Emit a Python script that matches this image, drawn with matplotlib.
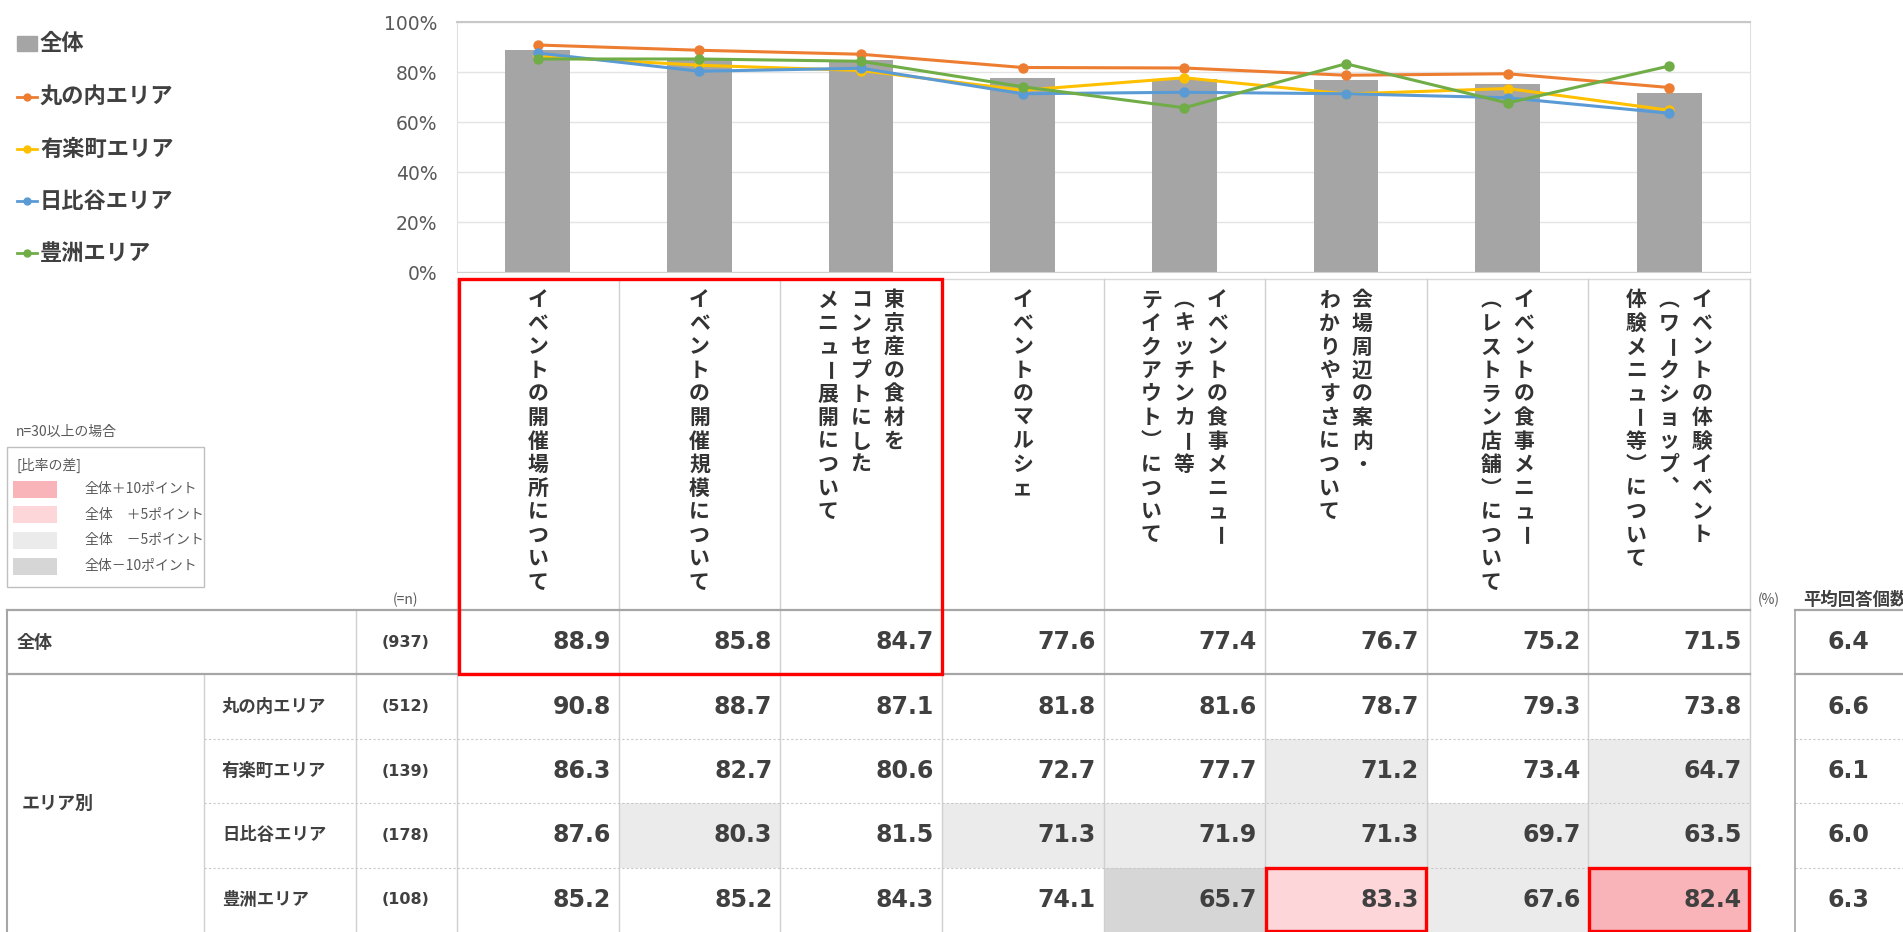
import matplotlib
matplotlib.use("Agg")
import matplotlib.pyplot as plt
from matplotlib.patches import Rectangle

plt.rcParams["font.family"] = ["Noto Sans CJK JP", "DejaVu Sans"]

# header items (vertical text, lines read right to left)
items = [
    "イベントの開催場所について",
    "イベントの開催規模について",
    "東京産の食材を\nコンセプトにした\nメニュー展開について",
    "イベントのマルシェ",
    "イベントの食事メニュー\n（キッチンカー等\nテイクアウト）について",
    "会場周辺の案内・\nわかりやすさについて",
    "イベントの食事メニュー\n（レストラン店舗）について",
    "イベントの体験イベント\n（ワークショップ、\n体験メニュー等）について",
]

overall = [88.9, 85.8, 84.7, 77.6, 77.4, 76.7, 75.2, 71.5]
marunouchi = [90.8, 88.7, 87.1, 81.8, 81.6, 78.7, 79.3, 73.8]
yurakucho = [86.3, 82.7, 80.6, 72.7, 77.7, 71.2, 73.4, 64.7]
hibiya = [87.6, 80.3, 81.5, 71.3, 71.9, 71.3, 69.7, 63.5]
toyosu = [85.2, 85.2, 84.3, 74.1, 65.7, 83.3, 67.6, 82.4]

areas = ["丸の内エリア", "有楽町エリア", "日比谷エリア", "豊洲エリア"]
area_vals = [marunouchi, yurakucho, hibiya, toyosu]
area_colors = ["#ED7D31", "#FFC000", "#5B9BD5", "#70AD47"]
total_n = 937
area_n = [512, 139, 178, 108]
total_avg = 6.4
area_avg = [6.6, 6.1, 6.0, 6.3]

W, H = 1903, 932
tab_l, tab_r = 457, 1750
col_w = (tab_r - tab_l) / len(items)
row_top = 610
row_h = 64.4
txt = "#404040"

# vertical writing forms
vert = {"（": "︵", "）": "︶", "、": "︑"}

fig = plt.figure(figsize=(W / 100, H / 100), dpi=100)
ax0 = fig.add_axes([0, 0, 1, 1])
ax0.set_xlim(0, W)
ax0.set_ylim(H, 0)
ax0.axis("off")

# ---- chart ----
ax = fig.add_axes([tab_l / W, (H - 272) / H, (tab_r - tab_l) / W, 250 / H])
x = list(range(len(items)))
ax.bar(x, overall, width=0.4, color="#A5A5A5", zorder=2)
for vals, c in zip(area_vals, area_colors):
    ax.plot(x, vals, color=c, lw=2.2, marker="o", ms=6.5, zorder=3)
ax.set_xlim(-0.5, len(items) - 0.5)
ax.set_ylim(0, 100)
ax.set_yticks(range(0, 101, 20))
ax.set_yticklabels([f"{v}%" for v in range(0, 101, 20)], fontsize=13.5,
                   color="#595959", family="DejaVu Sans")
ax.set_xticks([])
ax.tick_params(axis="y", length=0, pad=14)
ax.grid(axis="y", color="#E4E4E4", lw=1, zorder=0)
for s in ["left", "right"]:
    ax.spines[s].set_color("#E0E0E0")
ax.spines["top"].set_color("#C8C8C8")
ax.spines["top"].set_linewidth(1.5)
ax.spines["bottom"].set_color("#D0D0D0")

# ---- chart legend ----
ax0.add_patch(Rectangle((17, 36), 20, 15, color="#A5A5A5"))
ax0.text(40, 43, "全体", fontsize=16, fontweight="bold", color=txt, va="center")
for i, (name, c) in enumerate(zip(areas, area_colors)):
    yy = 97 + i * 52
    ax0.plot([17, 37], [yy, yy], color=c, lw=2)
    ax0.plot([27], [yy], "o", color=c, ms=5)
    ax0.text(40, yy, name, fontsize=16, fontweight="bold", color=txt, va="center")

# ---- small colour legend ----
shade = {"p10": "#F8B4B8", "p5": "#FCD6D9", "m5": "#EBEBEB", "m10": "#D6D6D6"}
ax0.text(16, 432, "n=30以上の場合", fontsize=10, color="#595959", va="center")
ax0.add_patch(Rectangle((7, 447), 197, 140, fill=False, ec="#BFBFBF", lw=1))
ax0.text(16, 465, "[比率の差]", fontsize=10, color="#595959", va="center")
leg_rows = [("p10", "全体＋10ポイント"), ("p5", "全体　＋5ポイント"),
            ("m5", "全体　－5ポイント"), ("m10", "全体－10ポイント")]
for i, (k, lab) in enumerate(leg_rows):
    yy = 489 + i * 25.7
    ax0.add_patch(Rectangle((13, yy - 8.5), 44, 17, color=shade[k], lw=0))
    ax0.text(85, yy, lab, fontsize=10, color="#595959", va="center")


def cell_color(v, base):
    d = v - base
    if d >= 10:
        return shade["p10"]
    if d >= 5:
        return shade["p5"]
    if d <= -10:
        return shade["m10"]
    if d <= -5:
        return shade["m5"]
    return None


# ---- cell backgrounds ----
for r, vals in enumerate(area_vals):
    y0 = row_top + (r + 1) * row_h
    for j, v in enumerate(vals):
        c = cell_color(v, overall[j])
        if c:
            ax0.add_patch(Rectangle((tab_l + j * col_w, y0), col_w, row_h, color=c, lw=0))

# ---- header text, vertical ----
pitch = 23.5
line_gap = 33
for j, item in enumerate(items):
    lines = item.split("\n")
    xc = tab_l + (j + 0.5) * col_w
    n = len(lines)
    for k, line in enumerate(lines):
        lx = xc + ((n - 1) / 2 - k) * line_gap
        for i, ch in enumerate(line):
            rot = -90 if ch == "ー" else 0
            ax0.text(lx, 300 + i * pitch, vert.get(ch, ch), fontsize=15, fontweight="bold",
                     color="#333333", ha="center", va="center", rotation=rot,
                     rotation_mode="anchor")

# ---- table lines ----
ax0.plot([tab_l, tab_r], [279, 279], color="#D9D9D9", lw=1)
for j in range(len(items) + 1):
    xx = tab_l + j * col_w
    ax0.plot([xx, xx], [279, H], color="#D0D0D0", lw=1)
ax0.plot([7, 7], [row_top, H], color="#A6A6A6", lw=1.5)
ax0.plot([356, 356], [row_top, H], color="#D0D0D0", lw=1)
ax0.plot([204, 204], [row_top + row_h, H], color="#D0D0D0", lw=1)
for r in range(2, 5):
    yy = row_top + r * row_h
    ax0.plot([204, tab_r], [yy, yy], color="#C8C8C8", lw=0.8, ls=(0, (2, 2)))
    ax0.plot([1795, W], [yy, yy], color="#C8C8C8", lw=0.8, ls=(0, (2, 2)))
for yy in [row_top, row_top + row_h]:
    ax0.plot([7, tab_r], [yy, yy], color="#A6A6A6", lw=1.6)
    ax0.plot([1795, W], [yy, yy], color="#A6A6A6", lw=1.6)
ax0.plot([1795, 1795], [row_top, H], color="#A6A6A6", lw=1.2)

# ---- table text ----
numfont = dict(family="DejaVu Sans", fontweight="bold", color=txt, fontsize=17)
ax0.text(406, 600, "(=n)", fontsize=10, color="#595959", ha="center", va="center")
ax0.text(1769, 600, "(%)", fontsize=10, color="#595959", ha="center", va="center")
ax0.text(1803, 600, "平均回答個数", fontsize=12.5, fontweight="bold", color=txt, va="center")

yc = row_top + row_h / 2
ax0.text(17, yc, "全体", fontsize=13, fontweight="bold", color=txt, va="center")
ax0.text(406, yc, f"({total_n})", family="DejaVu Sans", fontweight="bold",
         fontsize=11.5, color=txt, ha="center", va="center")
for j, v in enumerate(overall):
    ax0.text(tab_l + (j + 1) * col_w - 8, yc, f"{v:.1f}", ha="right", va="center", **numfont)
ax0.text(1848, yc, f"{total_avg:.1f}", ha="center", va="center", **numfont)

ax0.text(22, row_top + row_h * 3, "エリア別", fontsize=13, fontweight="bold",
         color=txt, va="center")
for r, (name, n_, vals, av) in enumerate(zip(areas, area_n, area_vals, area_avg)):
    yc = row_top + (r + 1.5) * row_h
    ax0.text(222, yc, name, fontsize=12.5, fontweight="bold", color=txt, va="center")
    ax0.text(406, yc, f"({n_})", family="DejaVu Sans", fontweight="bold",
             fontsize=11.5, color=txt, ha="center", va="center")
    for j, v in enumerate(vals):
        ax0.text(tab_l + (j + 1) * col_w - 8, yc, f"{v:.1f}", ha="right", va="center", **numfont)
    ax0.text(1848, yc, f"{av:.1f}", ha="center", va="center", **numfont)

# ---- red highlight boxes ----
red = "#FF0000"
ax0.add_patch(Rectangle((tab_l + 2, 279), 3 * col_w - 2, row_top + row_h - 279,
                        fill=False, ec=red, lw=2.4, zorder=5))
for j in [5, 7]:
    ax0.add_patch(Rectangle((tab_l + j * col_w + 1, row_top + 4 * row_h), col_w - 2,
                            H - (row_top + 4 * row_h) - 1, fill=False, ec=red, lw=2.4, zorder=5))

fig.savefig("out.png", dpi=100)
